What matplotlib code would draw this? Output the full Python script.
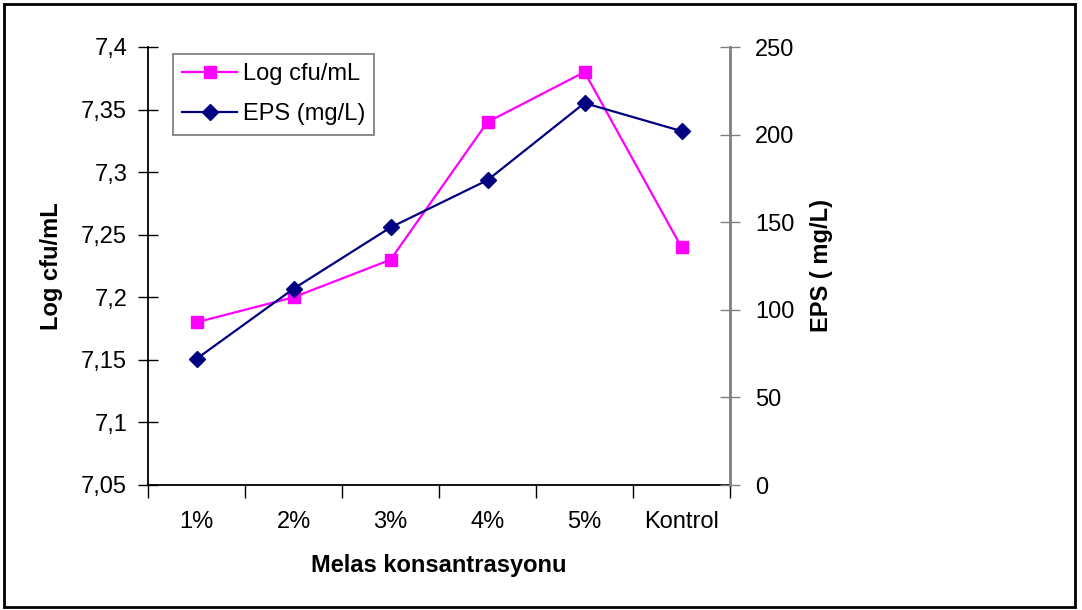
import numpy as np
import matplotlib.pyplot as plt
from matplotlib.patches import Rectangle
from matplotlib.ticker import FixedLocator

plt.rcParams['font.family'] = ['Liberation Sans', 'DejaVu Sans']

# data
categories = ['1%', '2%', '3%', '4%', '5%', 'Kontrol']
log_cfu = [7.18, 7.20, 7.23, 7.34, 7.38, 7.24]
eps_mg = [72, 112, 147, 174, 218, 202]
left_ticks = [7.05, 7.1, 7.15, 7.2, 7.25, 7.3, 7.35, 7.4]
left_labels = ['7,05', '7,1', '7,15', '7,2', '7,25', '7,3', '7,35', '7,4']
right_ticks = [0, 50, 100, 150, 200, 250]

fs = 17

fig = plt.figure(figsize=(10.82, 6.10), dpi=100)
ax = fig.add_axes([148/1082, 1-485/610, (730-148)/1082, (485-47)/610])
ax2 = ax.twinx()

x = np.arange(len(categories))

l1, = ax.plot(x, log_cfu, color='#FF00FF', marker='s', markersize=8.5, lw=1.6,
              label='Log cfu/mL')
l2, = ax2.plot(x, eps_mg, color='#000080', marker='D', markersize=8, lw=1.6,
               label='EPS (mg/L)')

ax.set_xlim(-0.5, len(categories)-0.5)
ax.set_ylim(7.05, 7.4)
ax2.set_ylim(0, 250)

ax.set_yticks(left_ticks)
ax.set_yticklabels(left_labels, fontsize=fs)
ax2.set_yticks(right_ticks)
ax2.set_yticklabels([str(t) for t in right_ticks], fontsize=fs)

ax.set_xticks(x)
ax.set_xticklabels(categories, fontsize=fs)
ax.xaxis.set_minor_locator(FixedLocator(np.arange(-0.5, len(categories), 1.0)))
ax.tick_params(axis='x', which='major', length=0, pad=19)
ax.tick_params(axis='x', which='minor', length=9, width=1, direction='out')
ax.tick_params(axis='y', direction='inout', length=14, width=1, pad=8)
ax2.tick_params(axis='y', direction='inout', length=14, width=1, pad=11, color='#808080')

for s in ['top', 'right']:
    ax.spines[s].set_visible(False)
ax2.spines['top'].set_visible(False)
ax2.spines['left'].set_visible(False)
ax2.spines['bottom'].set_visible(False)
ax2.spines['right'].set_color('#808080')
ax2.spines['right'].set_linewidth(2)
ax.spines['left'].set_linewidth(1.3)
ax.spines['bottom'].set_linewidth(1.3)

ax.set_ylabel('Log cfu/mL', fontsize=fs, fontweight='bold', labelpad=13)
ax2.set_ylabel('EPS ( mg/L)', fontsize=fs, fontweight='bold', labelpad=11)
ax.set_xlabel('Melas konsantrasyonu', fontsize=fs, fontweight='bold', labelpad=15)

leg = ax.legend(handles=[l1, l2], loc='upper left', bbox_to_anchor=(25/582, 1-7/438),
                fontsize=fs, frameon=True, fancybox=False, borderpad=0.4,
                handlelength=2.3, labelspacing=0.75, handletextpad=0.25,
                borderaxespad=0)
leg.get_frame().set_edgecolor('#555555')
leg.get_frame().set_linewidth(1.2)

# outer chart border
fig.patches.append(Rectangle((4/1082, 3/610), 1071/1082, 603/610, transform=fig.transFigure,
                             fill=False, edgecolor='black', linewidth=2))

fig.savefig('out.png', dpi=100)
